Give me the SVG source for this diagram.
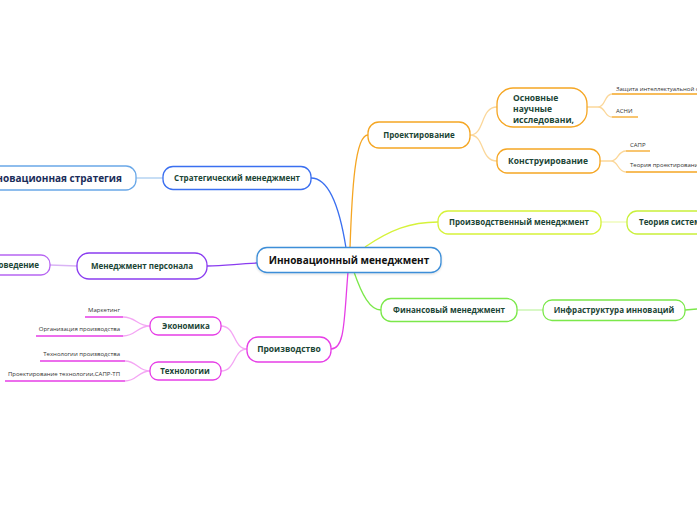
<svg xmlns="http://www.w3.org/2000/svg" width="697" height="520" viewBox="0 0 697 520">
<style>
.t{font-family:"Open Sans","Noto Sans","DejaVu Sans",sans-serif;font-weight:bold;fill:#1b4535;}
.c{text-anchor:middle;}
.leaf{font-family:"Open Sans","Noto Sans","DejaVu Sans",sans-serif;font-size:6px;fill:#333;}
.n{fill:#fff;stroke-width:1.3;}
.ln{fill:none;stroke-width:1.3;}
</style>
<defs>
<filter id="sh" x="-10%" y="-30%" width="120%" height="160%"><feDropShadow dx="0" dy="1" stdDeviation="1" flood-color="#000" flood-opacity="0.15"/></filter>
</defs>
<g id="connectors">
<path class="ln" stroke="#3a6ff0" d="M346,248 C340,210 330,178 311,178"/>
<path class="ln" stroke="#f5a623" d="M350,248 C352,190 355,135 368,135"/>
<path class="ln" stroke="#d6f23a" d="M365,247 C390,230 410,222 438,222"/>
<path class="ln" stroke="#7be84a" d="M354,272 C362,295 370,310 381,310"/>
<path class="ln" stroke="#e63ee6" d="M348,272 C344,320 345,349 331,349"/>
<path class="ln" stroke="#8a3cf0" d="M257,263 C235,264 225,266 207,266"/>
<path class="ln" stroke="#a9cdf0" d="M136,178 L163,178"/>
<path class="ln" stroke="#d9b3f5" d="M50,265 L77,266"/>
<path class="ln" stroke="#ecfab0" d="M601,222 L627,222"/>
<path class="ln" stroke="#c3f5a8" d="M517,310 L543,310"/>
<path class="ln" stroke="#7be84a" d="M685,310 L697,309"/>
<path class="ln" stroke="#fbd79a" d="M470,135 C485,135 480,107 497,107 M470,135 C485,135 480,161 497,161"/>
<path class="ln" stroke="#fbd79a" d="M587,107 L598,107 C606,107 604,94 612,94 M598,107 C606,107 604,117 612,117"/>
<path class="ln" stroke="#fbd79a" d="M600,161 L611,161 C619,161 617,151 626,151 M611,161 C619,161 617,172 626,172"/>
<path class="ln" stroke="#f4a6f4" d="M247,349 C233,349 236,326 221,326 M247,349 C233,349 236,371 221,371"/>
<path class="ln" stroke="#f4a6f4" d="M150,326 C137,326 136,317 123,317 M150,326 C137,326 136,336 123,336"/>
<path class="ln" stroke="#f4a6f4" d="M150,371 C138,371 137,361 125,361 M150,371 C138,371 137,381 125,381"/>
</g>
<g id="central">
<rect class="n" x="257" y="247.5" width="184" height="25" rx="10" stroke="#3d8ed8" filter="url(#sh)"/>
<text x="349" y="264" class="t c" style="font-size:10px;fill:#111">Инновационный менеджмент</text>
</g>
<g id="strategic">
<rect class="n" x="163" y="166.5" width="148" height="23" rx="10" stroke="#3a6ff0"/>
<text x="237" y="181" class="t c" style="font-size:8px">Стратегический менеджмент</text>
</g>
<g id="innov-strategy">
<rect class="n" x="-20" y="166" width="156" height="24" rx="10" stroke="#6aa8e8"/>
<text x="122" y="182" class="t" style="font-size:10px;text-anchor:end;fill:#1a2d5a">нновационная стратегия</text>
</g>
<g id="personnel">
<rect class="n" x="77" y="253" width="130" height="26" rx="12" stroke="#8a3cf0"/>
<text x="142" y="269" class="t c" style="font-size:8px">Менеджмент персонала</text>
</g>
<g id="behavior">
<rect class="n" x="-20" y="255" width="70" height="20" rx="9" stroke="#b766f2"/>
<text x="39" y="268" class="t" style="font-size:8px;text-anchor:end">оведение</text>
</g>
<g id="design">
<rect class="n" x="368" y="122" width="102" height="26" rx="11" stroke="#f5a623"/>
<text x="419" y="138" class="t c" style="font-size:8px">Проектирование</text>
</g>
<g id="research">
<rect class="n" x="497" y="88" width="90" height="39" rx="16" stroke="#f5a623"/>
<text class="t" style="font-size:8.5px"><tspan x="513" y="101">Основные</tspan><tspan x="513" y="112">научные</tspan><tspan x="513" y="123">исследовани,</tspan></text>
</g>
<g id="construction">
<rect class="n" x="497" y="149" width="103" height="24" rx="10" stroke="#f5a623"/>
<text x="548" y="164" class="t c" style="font-size:8.5px">Конструирование</text>
</g>
<g id="leaf-protection">
<text x="616" y="91" class="leaf">Защита интеллектуальной собственности</text>
<line x1="612" y1="94" x2="697" y2="94" stroke="#f5a623" stroke-width="1.3"/>
</g>
<g id="leaf-asni">
<text x="616" y="113" class="leaf">АСНИ</text>
<line x1="612" y1="117" x2="638" y2="117" stroke="#f5a623" stroke-width="1.3"/>
</g>
<g id="leaf-sapr">
<text x="630" y="147" class="leaf">САПР</text>
<line x1="626" y1="151" x2="650" y2="151" stroke="#f5a623" stroke-width="1.3"/>
</g>
<g id="leaf-theory">
<text x="630" y="167" class="leaf">Теория проектирования</text>
<line x1="626" y1="172" x2="697" y2="172" stroke="#f5a623" stroke-width="1.3"/>
</g>
<g id="production-mgmt">
<rect class="n" x="438" y="211" width="163" height="23" rx="10" stroke="#d6f23a"/>
<text x="519" y="225" class="t c" style="font-size:8px">Производственный менеджмент</text>
</g>
<g id="systems">
<rect class="n" x="627" y="211" width="90" height="23" rx="10" stroke="#c9f03a"/>
<text x="639" y="225" class="t" style="font-size:8px">Теория систем</text>
</g>
<g id="finance">
<rect class="n" x="381" y="298.5" width="136" height="23" rx="10" stroke="#7be84a"/>
<text x="449" y="313" class="t c" style="font-size:8px">Финансовый менеджмент</text>
</g>
<g id="infrastructure">
<rect class="n" x="543" y="300" width="142" height="20.5" rx="9" stroke="#7be84a"/>
<text x="614" y="313" class="t c" style="font-size:8px">Инфраструктура инноваций</text>
</g>
<g id="production">
<rect class="n" x="247" y="337" width="84" height="25" rx="11" stroke="#e63ee6"/>
<text x="289" y="352" class="t c" style="font-size:8.5px">Производство</text>
</g>
<g id="economics">
<rect class="n" x="150" y="317" width="71" height="18" rx="8" stroke="#e63ee6"/>
<text x="186" y="329" class="t c" style="font-size:8px">Экономика</text>
</g>
<g id="technology">
<rect class="n" x="150" y="362" width="71" height="18" rx="8" stroke="#e63ee6"/>
<text x="185" y="374" class="t c" style="font-size:8px">Технологии</text>
</g>
<g id="leaf-marketing">
<text x="120" y="312" class="leaf" style="text-anchor:end">Маркетинг</text>
<line x1="85" y1="317" x2="123" y2="317" stroke="#e63ee6" stroke-width="1.3"/>
</g>
<g id="leaf-organization">
<text x="120" y="331" class="leaf" style="text-anchor:end">Организация производства</text>
<line x1="36" y1="336" x2="123" y2="336" stroke="#e63ee6" stroke-width="1.3"/>
</g>
<g id="leaf-techprod">
<text x="120" y="356" class="leaf" style="text-anchor:end">Технологии производства</text>
<line x1="40" y1="361" x2="125" y2="361" stroke="#e63ee6" stroke-width="1.3"/>
</g>
<g id="leaf-techdesign">
<text x="120" y="376" class="leaf" style="text-anchor:end">Проектирование технологии,САПР-ТП</text>
<line x1="5" y1="381" x2="125" y2="381" stroke="#e63ee6" stroke-width="1.3"/>
</g>
</svg>
